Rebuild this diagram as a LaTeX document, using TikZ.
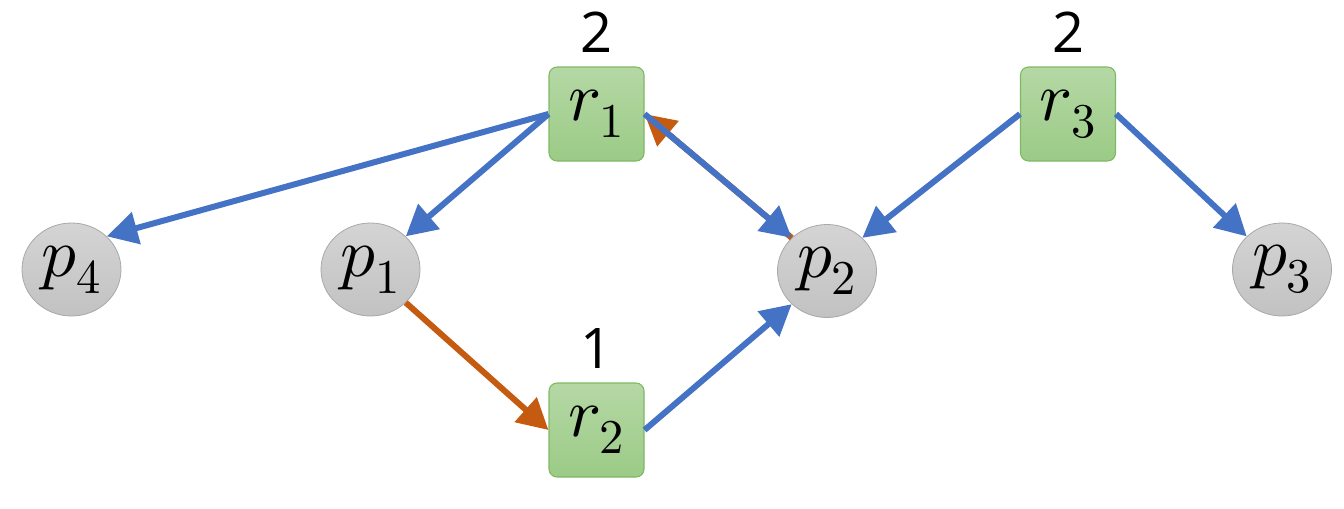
\documentclass[tikz,border=0pt]{standalone}
\usepackage{fontspec}
\setmainfont{Open Sans}
\usepackage{unicode-math}
\setmathfont{Latin Modern Math}
\usetikzlibrary{arrows.meta,shapes.geometric}
\definecolor{eblue}{HTML}{4472C4}
\definecolor{eorange}{HTML}{C55A11}
\definecolor{gtop}{HTML}{B5D8A5}
\definecolor{gbot}{HTML}{9BCB86}
\definecolor{gline}{HTML}{7FB864}
\definecolor{ctop}{HTML}{D4D4D4}
\definecolor{cbot}{HTML}{C2C2C2}
\definecolor{cline}{HTML}{A8A8A8}
\tikzset{
  res/.style={rectangle, rounded corners=6pt, minimum width=71.25pt, minimum height=70.5pt,
    inner sep=0pt, draw=gline, line width=0.8pt, top color=gtop, bottom color=gbot,
    font=\fontsize{52}{60}\selectfont},
  proc/.style={ellipse, minimum width=74.25pt, minimum height=69.75pt, inner sep=0pt,
    draw=cline, line width=0.6pt, top color=ctop, bottom color=cbot,
    font=\fontsize{52}{60}\selectfont},
  cnt/.style={inner sep=0pt, font=\fontsize{42}{50}\selectfont},
  edge/.style={line width=4.5pt, -{Triangle[length=23pt,width=24pt]}},
  bedge/.style={edge, draw=eblue, color=eblue},
  oedge/.style={edge, draw=eorange, color=eorange}
}
\begin{document}
\begin{tikzpicture}[x=0.75pt,y=-0.75pt]
\useasboundingbox (0,0) rectangle (1344,508);
\node[proc] (p4) at (71.5,269.5) {$p_4$};
\node[proc] (p1) at (370.5,269.5) {$p_1$};
\node[proc] (p2) at (827,271) {$p_2$};
\node[proc] (p3) at (1282,269.5) {$p_3$};
\node[res] (r1) at (596.5,114) {$r_1$};
\node[res] (r2) at (596.5,430) {$r_2$};
\node[res] (r3) at (1068,114) {$r_3$};
\node[cnt] (l1) at (596.5,32) {2};
\node[cnt] (l2) at (596.5,349) {1};
\node[cnt] (l3) at (1068,32) {2};
\draw[bedge] (r1.west) -- (p4.north east);
\draw[bedge] (r1.west) -- (p1.north east);
\draw[oedge] (p2.north west) -- (r1.east);
\draw[bedge] (r1.east) -- (p2.north west);
\draw[bedge] (r3.west) -- (p2.north east);
\draw[bedge] (r3.east) -- (p3.north west);
\draw[oedge] (p1.south east) -- (r2.west);
\draw[bedge] (r2.east) -- (p2.south west);
\end{tikzpicture}
\end{document}
